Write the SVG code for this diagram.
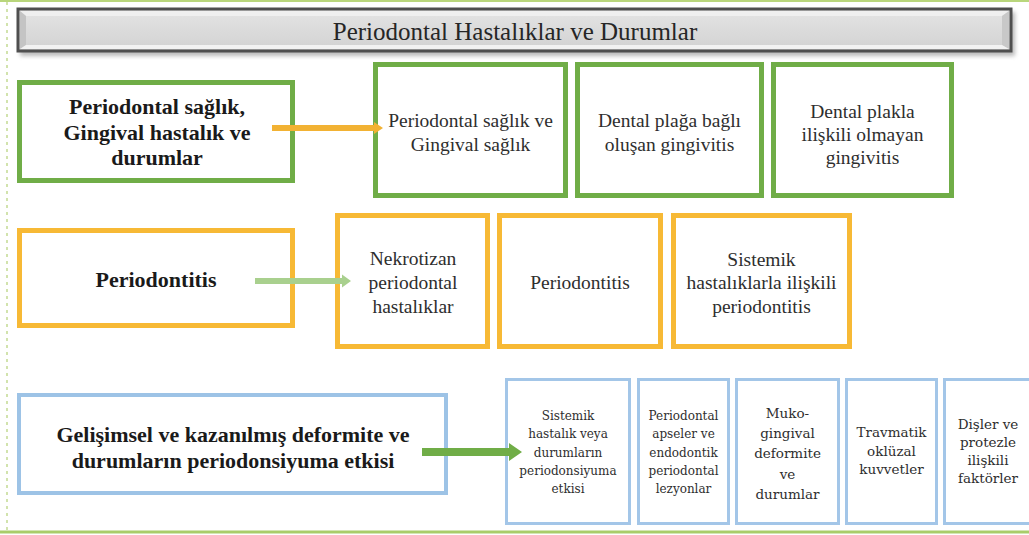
<svg xmlns="http://www.w3.org/2000/svg" width="1029" height="535" viewBox="0 0 1029 535">
<style>
.bg{fill:#ffffff}
.g{fill:#fff;stroke:#70ad47;stroke-width:5}
.o{fill:#fff;stroke:#f7b935;stroke-width:5}
.b{fill:#fff;stroke:#9dc3e6;stroke-width:4}
.bs{fill:#fff;stroke:#a3c6e8;stroke-width:3}
.hd{font-family:"Liberation Serif","Times New Roman",serif;font-weight:bold;font-size:22px;fill:#1a1a1a;text-anchor:middle}
.tx{font-family:"Liberation Serif","Times New Roman",serif;font-size:19.5px;fill:#2e2e2e;text-anchor:middle}
.sm{font-family:"DejaVu Serif",serif;font-size:12px;fill:#2e2e2e;text-anchor:middle}
.sm2{font-family:"DejaVu Serif",serif;font-size:13.5px;fill:#2e2e2e;text-anchor:middle}
.ttl{font-family:"Liberation Serif","Times New Roman",serif;font-size:25px;fill:#262626;text-anchor:middle}
</style>
<defs>
<linearGradient id="barg" x1="0" y1="0" x2="0" y2="1">
<stop offset="0" stop-color="#e4e4e4"/>
<stop offset="1" stop-color="#d2d2d2"/>
</linearGradient>
<filter id="sh" x="-5%" y="-30%" width="110%" height="170%">
<feGaussianBlur stdDeviation="2"/>
</filter>
</defs>
<rect class="bg" x="0" y="0" width="1029" height="535"/>
<g id="frame">
<line x1="0" y1="1" x2="1029" y2="1" stroke="#b9d67c" stroke-width="2"/>
<line x1="7" y1="2" x2="7" y2="531" stroke="#c3da92" stroke-width="1.5" stroke-dasharray="3 4"/>
<line x1="0" y1="532" x2="1029" y2="532" stroke="#a9cd6a" stroke-width="3"/>
</g>
<g id="title">
<rect x="20" y="12" width="995" height="44" fill="#8c8c8c" opacity="0.6" filter="url(#sh)"/>
<rect x="18" y="9" width="993" height="42" fill="url(#barg)" stroke="#4f4f4f" stroke-width="3"/>
<polygon points="20,11 1009,11 1002,16 26,16" fill="#efefef"/>
<polygon points="20,11 26,16 26,45 20,49" fill="#c4c4c4"/>
<polygon points="1009,11 1009,49 1002,45 1002,16" fill="#c8c8c8"/>
<polygon points="20,49 26,45 1002,45 1009,49" fill="#f2f2f2"/>
<text class="ttl" x="515" y="40">Periodontal Hastalıklar ve Durumlar</text>
</g>
<g id="n1">
<rect class="g" x="19.5" y="82.5" width="273" height="98"/>
<text class="hd" x="157" y="114">Periodontal sağlık,</text>
<text class="hd" x="157" y="140">Gingival hastalık ve</text>
<text class="hd" x="157" y="165">durumlar</text>
</g>
<g id="n1a">
<rect class="g" x="375.5" y="64.5" width="190" height="131"/>
<text class="tx" x="470.5" y="127">Periodontal sağlık ve</text>
<text class="tx" x="470.5" y="151">Gingival sağlık</text>
</g>
<g id="n1b">
<rect class="g" x="577.5" y="64.5" width="184" height="131"/>
<text class="tx" x="669.5" y="127">Dental plağa bağlı</text>
<text class="tx" x="669.5" y="151">oluşan gingivitis</text>
</g>
<g id="n1c">
<rect class="g" x="773.5" y="64.5" width="178" height="131"/>
<text class="tx" x="862.5" y="118">Dental plakla</text>
<text class="tx" x="862.5" y="141">ilişkili olmayan</text>
<text class="tx" x="862.5" y="164">gingivitis</text>
</g>
<g id="n2">
<rect class="o" x="19.5" y="230.5" width="273" height="95"/>
<text class="hd" x="156" y="287">Periodontitis</text>
</g>
<g id="n2a">
<rect class="o" x="337.5" y="215.5" width="150" height="131"/>
<text class="tx" x="413" y="265">Nekrotizan</text>
<text class="tx" x="413" y="289">periodontal</text>
<text class="tx" x="413" y="313">hastalıklar</text>
</g>
<g id="n2b">
<rect class="o" x="499.5" y="215.5" width="161" height="131"/>
<text class="tx" x="580" y="289">Periodontitis</text>
</g>
<g id="n2c">
<rect class="o" x="673.5" y="215.5" width="176" height="131"/>
<text class="tx" x="761.5" y="266">Sistemik</text>
<text class="tx" x="761.5" y="289">hastalıklarla ilişkili</text>
<text class="tx" x="761.5" y="313">periodontitis</text>
</g>
<g id="n3">
<rect class="b" x="19" y="395" width="427" height="98"/>
<text class="hd" x="233" y="442">Gelişimsel ve kazanılmış deformite ve</text>
<text class="hd" x="233" y="468">durumların periodonsiyuma etkisi</text>
</g>
<g id="n3a">
<rect class="bs" x="506.5" y="379.5" width="123" height="144"/>
<text class="sm" x="568" y="420">Sistemik</text>
<text class="sm" x="568" y="438">hastalık veya</text>
<text class="sm" x="568" y="456.5">durumların</text>
<text class="sm" x="568" y="475">periodonsiyuma</text>
<text class="sm" x="568" y="493">etkisi</text>
</g>
<g id="n3b">
<rect class="bs" x="638.5" y="379.5" width="90" height="144"/>
<text class="sm" x="683.5" y="420">Periodontal</text>
<text class="sm" x="683.5" y="438">apseler ve</text>
<text class="sm" x="683.5" y="456.5">endodontik</text>
<text class="sm" x="683.5" y="475">periodontal</text>
<text class="sm" x="683.5" y="493">lezyonlar</text>
</g>
<g id="n3c">
<rect class="bs" x="736.5" y="379.5" width="102" height="144"/>
<text class="sm2" x="787.5" y="418">Muko-</text>
<text class="sm2" x="787.5" y="438">gingival</text>
<text class="sm2" x="787.5" y="458">deformite</text>
<text class="sm2" x="787.5" y="479">ve</text>
<text class="sm2" x="787.5" y="499">durumlar</text>
</g>
<g id="n3d">
<rect class="bs" x="846.5" y="379.5" width="90" height="144"/>
<text class="sm2" x="891.5" y="437">Travmatik</text>
<text class="sm2" x="891.5" y="455.5">oklüzal</text>
<text class="sm2" x="891.5" y="474">kuvvetler</text>
</g>
<g id="n3e">
<rect class="bs" x="944.5" y="379.5" width="100" height="144"/>
<text class="sm2" x="988" y="429">Dişler ve</text>
<text class="sm2" x="988" y="447">protezle</text>
<text class="sm2" x="988" y="465">ilişkili</text>
<text class="sm2" x="988" y="483">faktörler</text>
</g>
<g id="connectors">
<path d="M272,125 H374 V122 L383,128 L374,134 V131 H272 Z" fill="#f2b233"/>
<path d="M255,278 H342 V274.5 L351,281 L342,287.5 V284 H255 Z" fill="#a9d08e"/>
<path d="M422,448 H509 V443 L522,452 L509,461 V456 H422 Z" fill="#70ad47"/>
</g>
</svg>
